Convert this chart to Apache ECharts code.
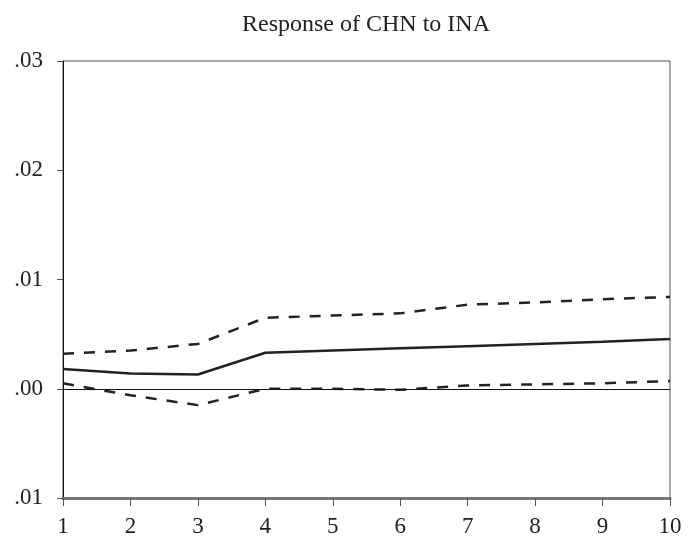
<!DOCTYPE html>
<html>
<head>
<meta charset="utf-8">
<script src="https://cdn.jsdelivr.net/npm/echarts@6/dist/echarts.min.js"></script>
<style>
  html, body { margin: 0; padding: 0; background: #fff; }
  #chart { width: 689px; height: 539px; }
</style>
</head>
<body>
<div id="chart"></div>
<script>
// impulse response, periods 1..10
const periods = [1, 2, 3, 4, 5, 6, 7, 8, 9, 10];
const response = [0.0018, 0.0014, 0.0013, 0.0033, 0.0035, 0.0037, 0.0039, 0.0041, 0.0043, 0.00455];
const upperBand = [0.0032, 0.0035, 0.0041, 0.0065, 0.0067, 0.0069, 0.0077, 0.0079, 0.0082, 0.0084];
const lowerBand = [0.0005, -0.0006, -0.0015, 0.0000, 0.0000, -0.0001, 0.0003, 0.0004, 0.0005, 0.0007];
const yTickLabels = { '-0.01': '.01', '0': '.00', '0.01': '.01', '0.02': '.02', '0.03': '.03' };

const font = '"Liberation Serif", "DejaVu Serif", serif';
const pair = arr => periods.map((p, i) => [p, arr[i]]);

const chart = echarts.init(document.getElementById('chart'));
chart.setOption({
    backgroundColor: '#fff',
    animation: false,
    title: {
        text: 'Response of CHN to INA', left: 361, top: 8, textAlign: 'center',
        textStyle: { fontFamily: font, fontSize: 24, fontWeight: 'normal', color: '#222' }
    },
    grid: { left: 63, right: 19, top: 61, bottom: 41, show: true, borderColor: '#555', borderWidth: 1 },
    xAxis: {
        type: 'value', min: 1, max: 10, interval: 1,
        axisLine: { onZero: false, lineStyle: { color: '#777', width: 3 } },
        axisTick: { show: true, length: 8, lineStyle: { color: '#555', width: 1 } },
        axisLabel: { fontFamily: font, fontSize: 23, color: '#222', margin: 17 },
        splitLine: { show: false }
    },
    yAxis: {
        type: 'value', min: -0.01, max: 0.03, interval: 0.01,
        axisLine: { show: true, lineStyle: { color: '#111', width: 1 } },
        axisTick: { show: true, length: 6, lineStyle: { color: '#555' } },
        axisLabel: {
            fontFamily: font, fontSize: 23, color: '#222', margin: 20,
            formatter: v => yTickLabels[String(Math.round(v * 100) / 100)] || ''
        },
        splitLine: { show: false }
    },
    series: [
        {
            type: 'line', data: pair(upperBand), symbol: 'none',
            lineStyle: { color: '#222', width: 2.5, type: [11, 10] }
        },
        {
            type: 'line', data: pair(response), symbol: 'none',
            lineStyle: { color: '#222', width: 2.5 },
            markLine: {
                silent: true, symbol: 'none', label: { show: false },
                lineStyle: { color: '#111', width: 1, type: 'solid' },
                data: [{ yAxis: 0 }]
            }
        },
        {
            type: 'line', data: pair(lowerBand), symbol: 'none',
            lineStyle: { color: '#222', width: 2.5, type: [11, 10] }
        }
    ]
});
</script>
</body>
</html>
